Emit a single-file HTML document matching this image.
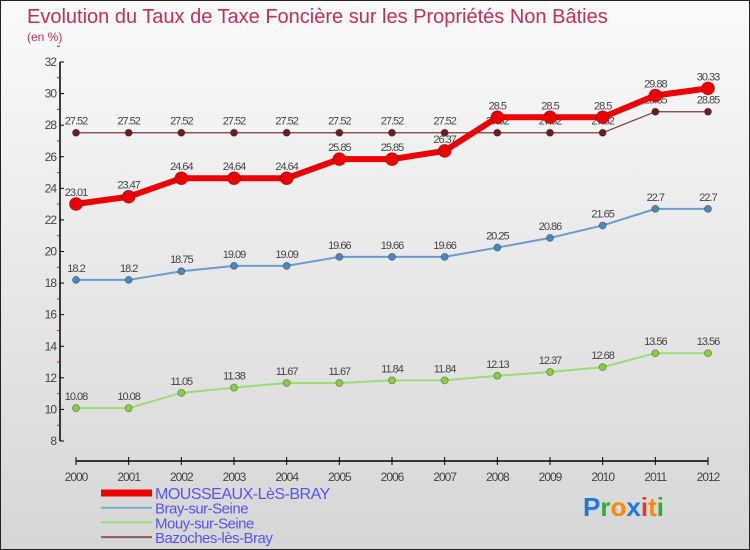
<!DOCTYPE html>
<html><head><meta charset="utf-8"><style>
body{margin:0}
#wrap{width:748px;height:548px;border:1px solid #222;background:linear-gradient(#fafafa,#d6d6d6);position:relative;font-family:"Liberation Sans",sans-serif;overflow:hidden}
svg{position:absolute;left:0;top:0}
</style></head><body>
<div id="wrap">
<svg id="c" width="750" height="550">
<text x="26" y="22" font-size="20" fill="#c0305a">Evolution du Taux de Taxe Foncière sur les Propriétés Non Bâties</text>
<text x="26" y="40" font-size="12" fill="#c0305a">(en %)</text>
</svg>
</div>
<script>
const years=[2000,2001,2002,2003,2004,2005,2006,2007,2008,2009,2010,2011,2012];
const yTicks=[8,10,12,14,16,18,20,22,24,26,28,30,32];
const mousseaux=[23.01,23.47,24.64,24.64,24.64,25.85,25.85,26.37,28.5,28.5,28.5,29.88,30.33];
const bray=[18.2,18.2,18.75,19.09,19.09,19.66,19.66,19.66,20.25,20.86,21.65,22.7,22.7];
const mouy=[10.08,10.08,11.05,11.38,11.67,11.67,11.84,11.84,12.13,12.37,12.68,13.56,13.56];
const bazoches=[27.52,27.52,27.52,27.52,27.52,27.52,27.52,27.52,27.52,27.52,27.52,28.85,28.85];
const names=["MOUSSEAUX-LèS-BRAY","Bray-sur-Seine","Mouy-sur-Seine","Bazoches-lès-Bray"];
const svg=document.getElementById('c');const NS='http://www.w3.org/2000/svg';
function X(i){return 75+i*(707-75)/(years.length-1);}
function Y(v){return 440-(v-8)*(440-61)/24;}
function mk(t,a,p){const e=document.createElementNS(NS,t);for(const k in a)e.setAttribute(k,a[k]);(p||svg).appendChild(e);return e;}
let ya=mk('line',{x1:59,y1:Y(32),x2:59,y2:Y(8),stroke:'#000','stroke-width':1.5});


yTicks.forEach(v=>{mk('line',{x1:59,x2:63,y1:Y(v),y2:Y(v),stroke:'#000'});
 mk('line',{x1:56,x2:59,y1:Y(v+1),y2:Y(v+1),stroke:'#e00'});
 const t=mk('text',{x:55,y:Y(v)+4,'font-size':12,'text-anchor':'end',fill:'#444','letter-spacing':'-1'});t.textContent=v;
 
 });
let xa=mk('line',{x1:75,y1:460,x2:707,y2:460,stroke:'#000','stroke-width':1.5});


years.forEach((y,i)=>{mk('line',{x1:X(i),x2:X(i),y1:456,y2:464,stroke:'#000'});
 const t=mk('text',{x:X(i),y:480,'font-size':12,'text-anchor':'middle',fill:'#444','letter-spacing':'-1'});t.textContent=y;
 
 });
function series(vals,color,lw,r,dot,name){
 const g=mk('g',{});
 
 
 mk('polyline',{points:vals.map((v,i)=>X(i)+','+Y(v)).join(' '),fill:'none',stroke:color,'stroke-width':lw},g);
 vals.forEach((v,i)=>{const c=mk('circle',{cx:X(i),cy:Y(v),r:r,fill:dot,stroke:'rgba(0,0,0,0.3)'},g);
  
  
  const t=mk('text',{x:X(i),y:Y(v)-8,'font-size':11,'text-anchor':'middle',fill:'#444','letter-spacing':'-1'},g);t.textContent=v;
  
  });
}
series(bazoches,'#7b3b3b',1.2,3.5,'#6b1e1e','series-bazoches');
series(mouy,'#99dd77',2,3.5,'#88d040','series-mouy');
series(bray,'#6a9ccc',2,3.5,'#4a88c4','series-bray');
series(mousseaux,'#ee0000',6,6.5,'#ee0000','series-mousseaux');
const lc=['#ee0000','#7aaad0','#99dd77','#8b5a5a'],lw=[7,2,2,2];
names.forEach((n,i)=>{const y=490+i*14.7;
 const l=mk('line',{x1:100,x2:151,y1:y+2,y2:y+2,stroke:lc[i],'stroke-width':lw[i]});
 
 
 const t=mk('text',{x:154,y:y+8,'font-size':i==0?16:15,fill:'#5555ee','letter-spacing':'-0.5'});t.textContent=n;
 
 });
const lg=mk('text',{x:582,y:515,'font-size':26,'font-weight':'bold'});


[['P','#2277dd'],['r','#33aa33'],['o','#ff8800'],['x','#2277dd'],['i','#ee3333'],['t','#ff8800'],['i','#33aa33']].forEach(([c,f])=>{const s=mk('tspan',{fill:f},lg);s.textContent=c;});
</script>
</body></html>
